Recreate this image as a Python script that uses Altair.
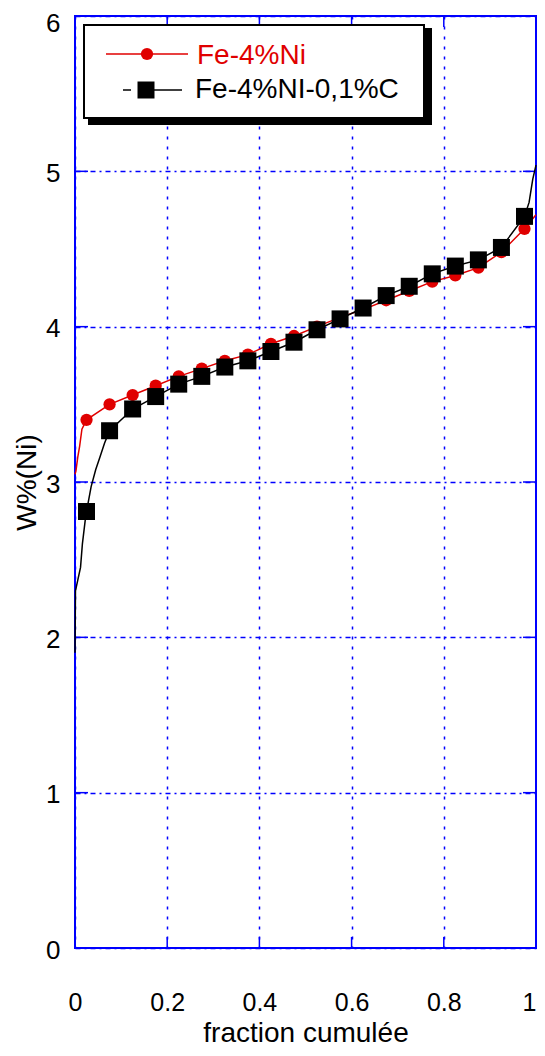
import altair as alt
import pandas as pd

# ---------------- data ----------------
X_TICKS = [0, 0.2, 0.4, 0.6, 0.8, 1.0]
Y_TICKS = [0, 1, 2, 3, 4, 5, 6]
X_INNER_TICKS = [0.2, 0.4, 0.6, 0.8]
Y_INNER_TICKS = [1, 2, 3, 4, 5]

SERIES = ["Fe-4%Ni", "Fe-4%NI-0,1%C"]

MARK_X = [0.025, 0.075, 0.125, 0.175, 0.225, 0.275, 0.325, 0.375, 0.425, 0.475,
          0.525, 0.575, 0.625, 0.675, 0.725, 0.775, 0.825, 0.875, 0.925, 0.975]
RED_MARK_Y = [3.40, 3.50, 3.56, 3.62, 3.68, 3.73, 3.78, 3.82, 3.89, 3.94,
              4.00, 4.06, 4.11, 4.17, 4.23, 4.29, 4.33, 4.38, 4.48, 4.63]
BLACK_MARK_Y = [2.81, 3.33, 3.47, 3.55, 3.63, 3.68, 3.74, 3.78, 3.84, 3.90,
                3.98, 4.05, 4.12, 4.20, 4.26, 4.34, 4.39, 4.43, 4.51, 4.71]

RED_LINE_X = [0.0, 0.002, 0.006, 0.010, 0.015, 0.025, 0.075, 0.125, 0.175, 0.225,
              0.275, 0.325, 0.375, 0.425, 0.475, 0.525, 0.575, 0.625, 0.675, 0.725,
              0.775, 0.825, 0.875, 0.925, 0.975, 1.0]
RED_LINE_Y = [3.05, 3.07, 3.16, 3.23, 3.34, 3.40, 3.50, 3.56, 3.62, 3.68,
              3.73, 3.78, 3.82, 3.89, 3.94, 4.00, 4.06, 4.11, 4.17, 4.23,
              4.29, 4.33, 4.38, 4.48, 4.63, 4.72]

BLACK_LINE_X = [0.0, 0.001, 0.012, 0.016, 0.022, 0.025, 0.035, 0.045, 0.054, 0.064,
                0.075, 0.125, 0.175, 0.225, 0.275, 0.325, 0.375, 0.425, 0.475, 0.525,
                0.575, 0.625, 0.675, 0.725, 0.775, 0.825, 0.875, 0.925, 0.975, 0.985,
                0.993, 1.0]
BLACK_LINE_Y = [1.90, 2.30, 2.45, 2.60, 2.75, 2.81, 2.97, 3.08, 3.16, 3.25,
                3.33, 3.47, 3.55, 3.63, 3.68, 3.74, 3.78, 3.84, 3.90, 3.98,
                4.05, 4.12, 4.20, 4.26, 4.34, 4.39, 4.43, 4.51, 4.71, 4.80,
                4.95, 5.04]

# ---------------- style ----------------
FONT = "Liberation Sans"
BLUE = "#0000ff"
RED = "#e00000"
W, H = 461, 932

xs = alt.Scale(domain=[0, 1], nice=False, zero=False)
ys = alt.Scale(domain=[0, 6], nice=False, zero=False)

red_line_df = pd.DataFrame({"x": RED_LINE_X, "y": RED_LINE_Y, "i": range(len(RED_LINE_X))})
black_line_df = pd.DataFrame({"x": BLACK_LINE_X, "y": BLACK_LINE_Y, "i": range(len(BLACK_LINE_X))})
red_pts_df = pd.DataFrame({"x": MARK_X, "y": RED_MARK_Y})
black_pts_df = pd.DataFrame({"x": MARK_X, "y": BLACK_MARK_Y})
xt_df = pd.DataFrame({"x": X_INNER_TICKS})
yt_df = pd.DataFrame({"y": Y_INNER_TICKS})
one = pd.DataFrame({"k": [0]})

x_axis = alt.Axis(values=X_TICKS, format=".1~f", grid=True, gridColor=BLUE,
                  gridDash=[3, 7], gridWidth=1.5, domain=False, ticks=False,
                  labelFont=FONT, labelFontSize=25, labelColor="#000",
                  labelBaseline="alphabetic", labelPadding=62, labelFlush=False,
                  labelOverlap=False,
                  labelAlign={"condition": {"test": "datum.value >= 1", "value": "right"},
                              "value": "center"},
                  title="fraction cumulée", titleFont=FONT, titleFontSize=28,
                  titleFontWeight="normal", titleColor="#000",
                  titleBaseline="alphabetic", titleY=93)
y_axis = alt.Axis(values=Y_TICKS, format="d", grid=True, gridColor=BLUE,
                  gridDash=[5, 4, 2, 4], gridWidth=1.5, domain=False, ticks=False,
                  labelFont=FONT, labelFontSize=26, labelColor="#000",
                  labelPadding=15, labelOverlap=False, labelFlush=False,
                  labelOffset={"condition": {"test": "datum.value >= 6", "value": 7},
                               "value": 2},
                  title="W%(Ni)", titleFont=FONT, titleFontSize=28,
                  titleFontWeight="normal", titleColor="#000",
                  titleAlign="center", titleBaseline="middle",
                  titleX=-48, titleY=H / 2)

X = alt.X("x:Q", scale=xs, axis=x_axis)
Y = alt.Y("y:Q", scale=ys, axis=y_axis)

red_line = alt.Chart(red_line_df).mark_line(color=RED, strokeWidth=1.5).encode(
    x=X, y=Y, order="i:Q")
black_line = alt.Chart(black_line_df).mark_line(color="#000", strokeWidth=1.5).encode(
    x=X, y=Y, order="i:Q")
red_pts = alt.Chart(red_pts_df).mark_point(shape="circle", filled=True, color=RED,
                                           opacity=1, size=150).encode(x=X, y=Y)
black_pts = alt.Chart(black_pts_df).mark_point(shape="square", filled=True, color="#000",
                                               opacity=1, size=289).encode(x=X, y=Y)

# inward ticks
tick_bottom = alt.Chart(xt_df).mark_rule(color=BLUE, strokeWidth=1.5).encode(
    x=X, y=alt.value(H), y2=alt.value(H - 11))
tick_top = alt.Chart(xt_df).mark_rule(color=BLUE, strokeWidth=1.5).encode(
    x=X, y=alt.value(0), y2=alt.value(11))
tick_left = alt.Chart(yt_df).mark_rule(color=BLUE, strokeWidth=1.5).encode(
    y=Y, x=alt.value(0), x2=alt.value(13))
tick_right = alt.Chart(yt_df).mark_rule(color=BLUE, strokeWidth=1.5).encode(
    y=Y, x=alt.value(W), x2=alt.value(W - 13))

# legend
leg_shadow = alt.Chart(one).mark_rect(color="#000").encode(
    x=alt.value(13), x2=alt.value(357), y=alt.value(12), y2=alt.value(109))
leg_box = alt.Chart(one).mark_rect(fill="#fff", stroke="#000", strokeWidth=2).encode(
    x=alt.value(9), x2=alt.value(349), y=alt.value(9), y2=alt.value(102))
leg_l1 = alt.Chart(one).mark_rule(color=RED, strokeWidth=1.5).encode(
    x=alt.value(31), x2=alt.value(113), y=alt.value(38))
leg_p1 = alt.Chart(one).mark_point(shape="circle", filled=True, color=RED, opacity=1,
                                   size=150).encode(x=alt.value(72), y=alt.value(38))
leg_t1 = alt.Chart(one).mark_text(align="left", baseline="middle", font=FONT,
                                  fontSize=28, color=RED).encode(
    x=alt.value(122), y=alt.value(40), text=alt.value(SERIES[0]))
leg_l2a = alt.Chart(one).mark_rule(color="#000", strokeWidth=1.5).encode(
    x=alt.value(48), x2=alt.value(56), y=alt.value(74))
leg_l2b = alt.Chart(one).mark_rule(color="#000", strokeWidth=1.5).encode(
    x=alt.value(72), x2=alt.value(107), y=alt.value(74))
leg_p2 = alt.Chart(one).mark_point(shape="square", filled=True, color="#000", opacity=1,
                                   size=289).encode(x=alt.value(71), y=alt.value(74))
leg_t2 = alt.Chart(one).mark_text(align="left", baseline="middle", font=FONT,
                                  fontSize=28, color="#000").encode(
    x=alt.value(120), y=alt.value(74), text=alt.value(SERIES[1]))

chart = alt.layer(
    red_line, tick_bottom, tick_top, tick_left, tick_right,
    black_line, red_pts, black_pts,
    leg_shadow, leg_box, leg_l1, leg_p1, leg_t1, leg_l2a, leg_l2b, leg_p2, leg_t2,
).properties(
    width=W, height=H,
    padding={"left": 67, "top": 8, "right": 1, "bottom": 99},
    autosize=alt.AutoSizeParams(type="none"),
    background="#ffffff",
).configure_view(stroke=BLUE, strokeWidth=2)

chart.save("out.html", embed_options={"renderer": "svg", "actions": False})
